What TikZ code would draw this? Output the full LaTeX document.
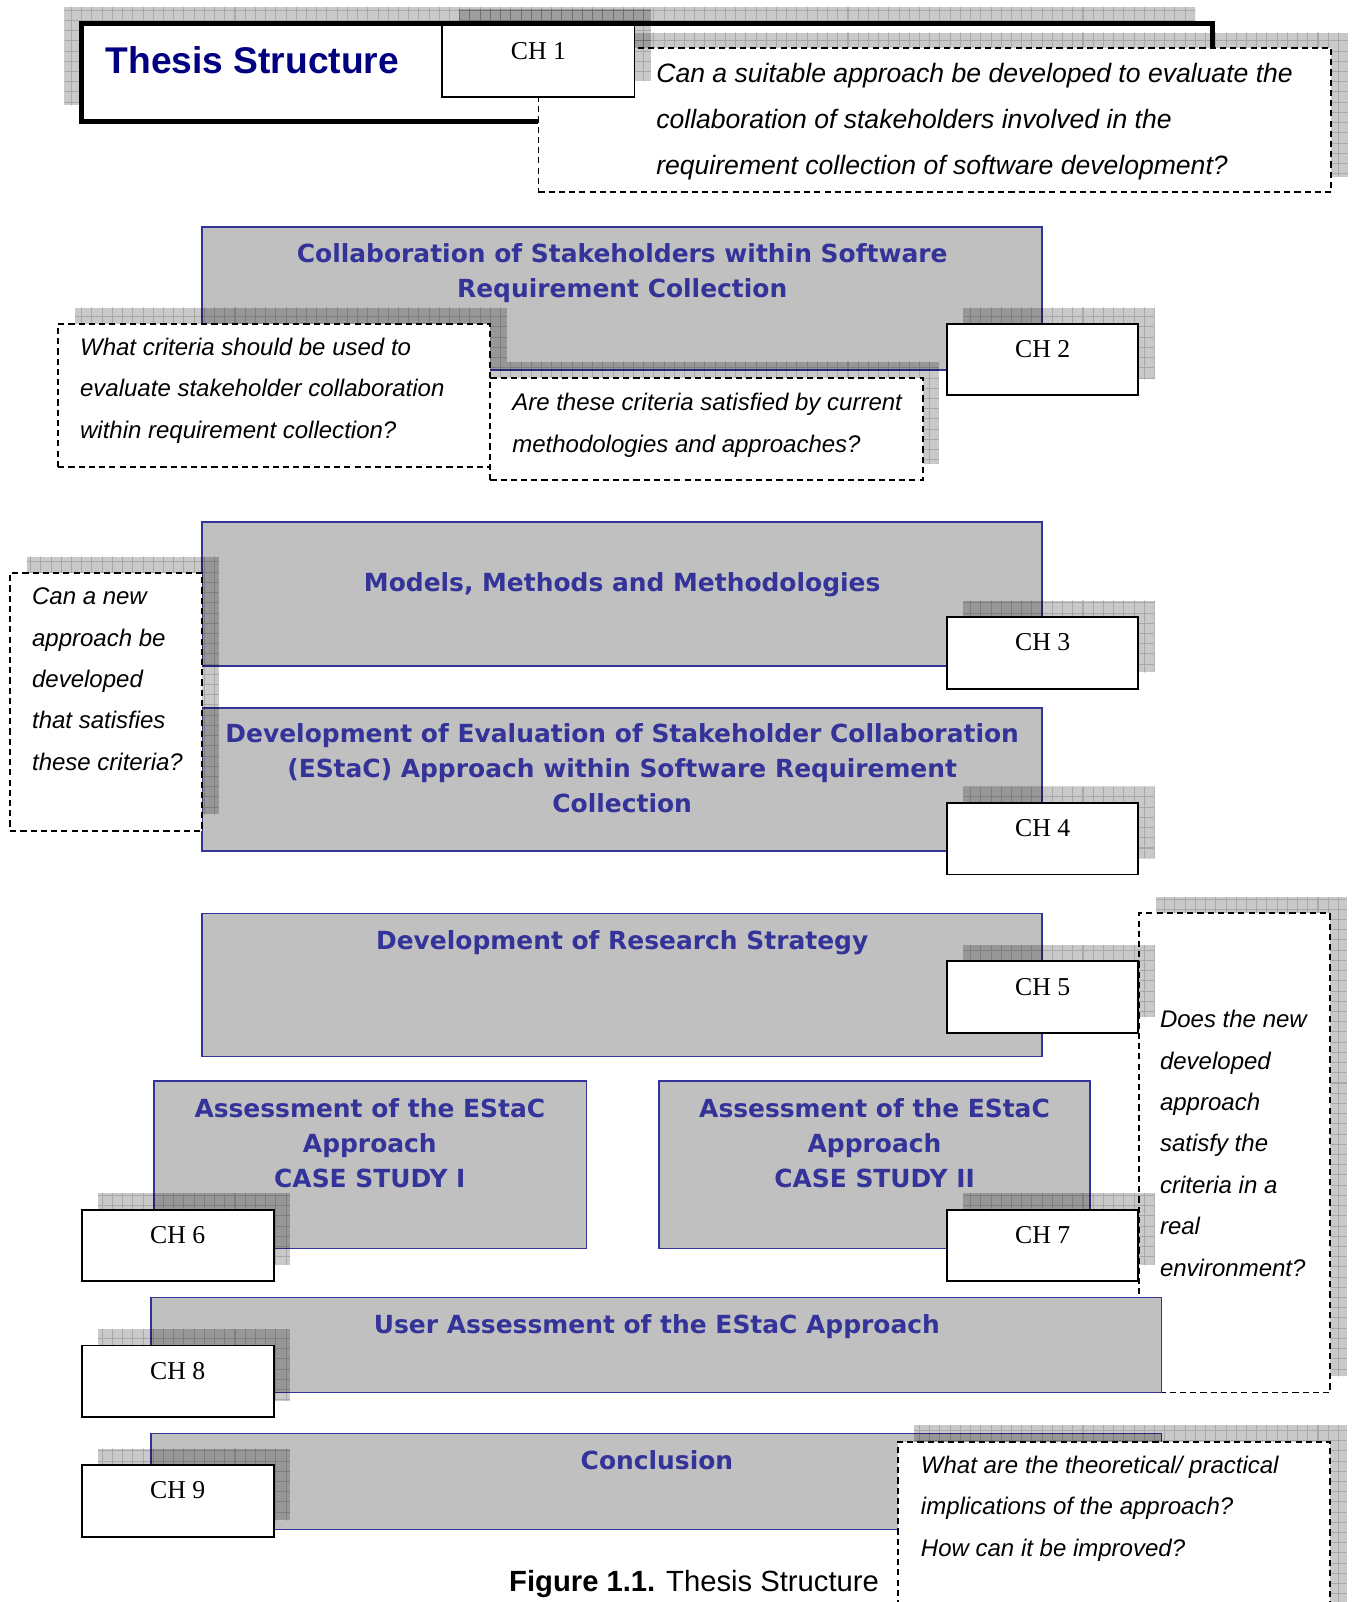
\documentclass[tikz,border=0pt]{standalone}
\usepackage{fontspec}
\setmainfont{Liberation Serif}
\setsansfont{Liberation Sans}
\newfontfamily\panelfont{DejaVu Sans}
\usetikzlibrary{fit}

\definecolor{panelgrey}{HTML}{C0C0C0}
\definecolor{panelblue}{HTML}{333399}
\definecolor{titlenavy}{HTML}{000080}

% multi-line text blocks aligned on the baseline of their first line
\newcommand\leftrows[1]{\begin{tabular}[t]{@{}l@{}}#1\end{tabular}}
\newcommand\midrows[1]{\begin{tabular}[t]{@{}c@{}}#1\end{tabular}}

\tikzset{
  panel/.style={draw=panelblue, fill=panelgrey, line width=0.8pt, inner sep=0pt},
  chapter/.style={draw=black, fill=white, line width=0.9pt, inner sep=0pt},
  question/.style={draw=black, fill=white, dash pattern=on 3pt off 2pt, line width=0.9pt, inner sep=0pt},
  frame/.style={draw=black, fill=white, line width=2.3pt, inner sep=0pt},
  shadefill/.style={fill=black, fill opacity=0.21},
  shadegrid/.style={draw=black, draw opacity=0.16, line width=0.5pt, step=5pt},
  paneltext/.style={font=\panelfont\bfseries\fontsize{12.2}{17}\selectfont, text=panelblue, inner sep=0pt, anchor=base},
  chtext/.style={font=\fontsize{12.6}{14}\selectfont, inner sep=0pt, anchor=base},
  qtext/.style={font=\sffamily\itshape\fontsize{11.75}{20.25}\selectfont, inner sep=0pt, anchor=base west},
  qbigtext/.style={font=\sffamily\itshape\fontsize{13}{22.5}\selectfont, inner sep=0pt, anchor=base west},
}

% box with a gridded drop shade: style, name, x1, y1, x2, y2, shade dx, shade dy
\newcommand\shadedbox[8]{%
  \fill[shadefill] ({#3+#7},{#4+#8}) rectangle ({#5+#7},{#6+#8});
  \begin{scope}
    \clip ({#3+#7},{#4+#8}) rectangle ({#5+#7},{#6+#8});
    \draw[shadegrid] ({#3+#7-12},{#4+#8-12}) grid ({#5+#7+12},{#6+#8+12});
  \end{scope}
  \node[#1, fit={(#3,#4) (#5,#6)}] (#2) {};
}

\begin{document}
\begin{tikzpicture}[x=0.5pt, y=-0.5pt]
\useasboundingbox (0,0) rectangle (1324,1568);

% ---- title and chapter 1
\shadedbox{frame}{title}{80}{23}{1187}{119}{-17}{-16}
\node[font=\sffamily\bfseries\fontsize{18.2}{20}\selectfont, text=titlenavy, inner sep=0pt, anchor=base west] (titletext) at (103,72) {Thesis Structure};
\shadedbox{question}{q1}{527}{47}{1303}{188}{16}{-15}
\node[qbigtext] (q1text) at (642,81) {\leftrows{Can a suitable approach be developed to evaluate the\\collaboration of stakeholders involved in the\\requirement collection of software development?}};
\shadedbox{chapter}{ch1}{433}{25}{621}{95}{16}{-16}
\node[chtext] (ch1text) at (527,58) {CH 1};

% ---- chapter 2
\node[panel, fit={(198,222) (1020,362)}] (collab) {};
\node[paneltext] (collabtext) at (609,257) {\midrows{Collaboration of Stakeholders within Software\\Requirement Collection}};
\shadedbox{question}{q2}{57}{317}{480}{457}{16}{-16}
\node[qtext] (q2text) at (78,348) {\leftrows{What criteria should be used to\\evaluate stakeholder collaboration\\within requirement collection?}};
\shadedbox{question}{q3}{480}{370}{903}{470}{16}{-16}
\node[qtext] (q3text) at (501,402) {\leftrows{Are these criteria satisfied by current\\methodologies and approaches?}};
\shadedbox{chapter}{ch2}{927}{317}{1114}{387}{16}{-16}
\node[chtext] (ch2text) at (1020.5,350) {CH 2};

% ---- chapters 3 and 4
\node[panel, fit={(198,511) (1020,652)}] (models) {};
\node[paneltext] (modelstext) at (609,579) {Models, Methods and Methodologies};
\shadedbox{chapter}{ch3}{927}{604}{1114}{674}{16}{-16}
\node[chtext] (ch3text) at (1020.5,637) {CH 3};
\node[panel, fit={(198,693) (1020,833)}] (estac) {};
\node[paneltext] (estactext) at (609,727) {\midrows{Development of Evaluation of Stakeholder Collaboration\\(EStaC) Approach within Software Requirement\\Collection}};
\shadedbox{chapter}{ch4}{927}{786}{1114}{856}{16}{-16}
\node[chtext] (ch4text) at (1020.5,819) {CH 4};
\shadedbox{question}{q4}{10}{561}{198}{813}{16}{-16}
\node[qtext] (q4text) at (31,592) {\leftrows{Can a new\\approach be\\developed\\that satisfies\\these criteria?}};

% ---- chapter 5
\node[panel, fit={(198,894) (1020,1034)}] (strategy) {};
\node[paneltext] (strategytext) at (609,929) {Development of Research Strategy};
\shadedbox{question}{q5}{1115}{894}{1302}{1363}{16}{-16}
\node[qtext] (q5text) at (1135,1006) {\leftrows{Does the new\\developed\\approach\\satisfy the\\criteria in a\\real\\environment?}};
\shadedbox{chapter}{ch5}{927}{941}{1114}{1011}{16}{-16}
\node[chtext] (ch5text) at (1020.5,974) {CH 5};

% ---- chapters 6 and 7
\node[panel, fit={(151,1058) (574,1222)}] (case1) {};
\node[paneltext] (case1text) at (362,1094) {\midrows{Assessment of the EStaC\\Approach\\CASE STUDY I}};
\node[panel, fit={(645,1058) (1067,1222)}] (case2) {};
\node[paneltext] (case2text) at (856,1094) {\midrows{Assessment of the EStaC\\Approach\\CASE STUDY II}};
\shadedbox{chapter}{ch6}{80}{1184}{268}{1254}{16}{-16}
\node[chtext] (ch6text) at (174,1217) {CH 6};
\shadedbox{chapter}{ch7}{927}{1184}{1114}{1254}{16}{-16}
\node[chtext] (ch7text) at (1020.5,1217) {CH 7};

% ---- chapter 8
\node[panel, fit={(148,1270) (1137,1363)}] (user) {};
\node[paneltext] (usertext) at (643,1305) {User Assessment of the EStaC Approach};
\shadedbox{chapter}{ch8}{80}{1317}{268}{1387}{16}{-16}
\node[chtext] (ch8text) at (174,1350) {CH 8};

% ---- chapter 9
\node[panel, fit={(148,1403) (1137,1497)}] (concl) {};
\node[paneltext] (concltext) at (643,1438) {Conclusion};
\shadedbox{question}{q6}{879}{1411}{1302}{1640}{16}{-16}
\node[qtext] (q6text) at (901,1442) {\leftrows{What are the theoretical/ practical\\implications of the approach?\\How can it be improved?}};
\shadedbox{chapter}{ch9}{80}{1434}{268}{1504}{16}{-16}
\node[chtext] (ch9text) at (174,1467) {CH 9};

% ---- caption
\node[font=\sffamily\fontsize{14.3}{16}\selectfont, inner sep=0pt, anchor=base west] (caption) at (498,1558) {\textbf{Figure 1.1.} Thesis Structure};
\end{tikzpicture}
\end{document}
